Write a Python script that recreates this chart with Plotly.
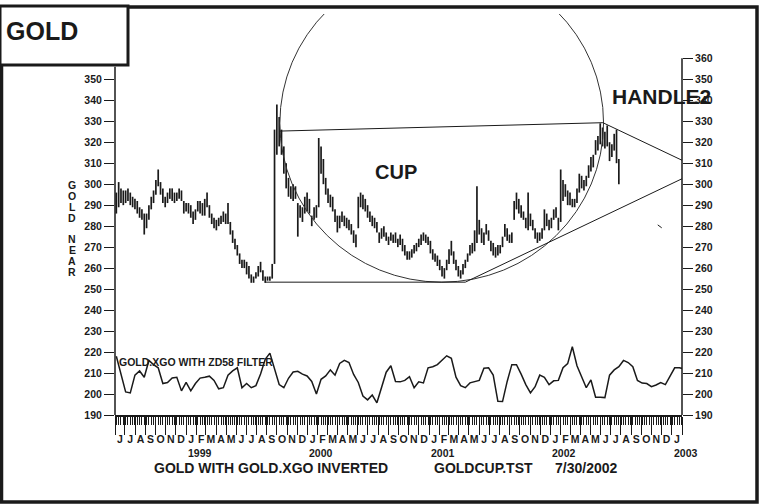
import plotly.graph_objects as go
import pandas as pd

# ---------------- data ----------------
# weekly high/low bars of GOLD NEAR (Fridays from 1998-06-05)
bar_start = "1998-06-05"
bar_low = [
    286, 289, 291, 290,            # 1998 Jun
    291, 292, 290, 289, 288,       # Jul
    286, 284, 283, 276,            # Aug
    279, 283, 288, 291,            # Sep
    295, 299, 295, 291, 289,       # Oct
    291, 293, 292, 291,            # Nov
    292, 293, 292, 286,            # Dec
    287, 286, 284, 281, 283,       # 1999 Jan
    287, 286, 285, 285,            # Feb
    289, 284, 281, 279,            # Mar
    278, 280, 281, 282, 281,       # Apr
    281, 276, 272, 269,            # May
    266, 262, 260, 260,            # Jun
    257, 255, 253, 253, 255,       # Jul
    256, 258, 254, 253,            # Aug
    254, 254, 255, 262,            # Sep
    314, 318, 314, 305, 298,       # Oct
    294, 293, 292, 293,            # Nov
    275, 284, 282, 286, 287,       # Dec
    286, 280, 283, 284,            # 2000 Jan
    289, 305, 300, 295,            # Feb
    291, 289, 287, 282, 277,       # Mar
    279, 282, 280, 279,            # Apr
    278, 276, 272, 270,            # May
    279, 289, 288, 287, 284,       # Jun
    282, 280, 279, 277,            # Jul
    272, 274, 275, 273,            # Aug
    271, 273, 272, 272, 270,       # Sep
    271, 268, 266, 264,            # Oct
    264, 265, 267, 268,            # Nov
    270, 271, 273, 272, 271,       # Dec
    267, 264, 263, 261,            # 2001 Jan
    259, 256, 255, 259,            # Feb
    262, 266, 262, 259, 256,       # Mar
    255, 257, 260, 263,            # Apr
    266, 267, 268, 272,            # May
    276, 272, 271, 276, 273,       # Jun
    268, 266, 265, 266,            # Jul
    267, 270, 275, 273, 272,       # Aug
    272, 283, 288, 286,            # Sep
    284, 283, 279, 278,            # Oct
    280, 278, 274, 272, 273,       # Nov
    274, 278, 280, 278,            # Dec
    279, 283, 284, 278,            # 2002 Jan
    282, 292, 294, 290,            # Feb
    290, 289, 289, 291, 296,       # Mar
    298, 297, 299, 303,            # Apr
    306, 308, 314, 316, 319,       # May
    318, 317, 318, 311,            # Jun
    313, 316, 310, 300,            # Jul
]
bar_high = [
    296, 301, 298, 297,
    297, 298, 296, 294, 293,
    292, 289, 288, 286,
    286, 290, 294, 297,
    302, 307, 301, 298, 294,
    296, 298, 298, 296,
    296, 298, 297, 292,
    291, 291, 290, 287, 288,
    292, 292, 291, 293,
    296, 290, 286, 284,
    283, 284, 285, 287, 286,
    291, 282, 278, 274,
    271, 267, 264, 264,
    263, 261, 257, 256, 258,
    261, 263, 259, 256,
    256, 256, 262, 326,
    338, 332, 326, 318, 310,
    303, 299, 300, 299,
    291, 290, 289, 294, 296,
    293, 285, 289, 290,
    322, 318, 312, 303,
    298, 295, 294, 288, 285,
    285, 287, 285, 284,
    283, 281, 278, 276,
    294, 296, 295, 293, 290,
    287, 285, 284, 282,
    277, 279, 280, 277,
    275, 277, 276, 277, 274,
    276, 274, 271, 268,
    268, 269, 271, 272,
    274, 276, 277, 276, 275,
    273, 269, 267, 266,
    264, 261, 260, 264,
    269, 273, 268, 264, 261,
    259, 262, 264, 267,
    271, 272, 278, 299,
    283, 279, 277, 281, 278,
    273, 272, 270, 271,
    271, 275, 281, 279, 276,
    277, 292, 296, 293,
    290, 287, 284, 296,
    286, 283, 279, 277, 277,
    279, 288, 286, 283,
    284, 288, 289, 284,
    307, 302, 300, 297,
    296, 293, 293, 298, 305,
    304, 302, 304, 309,
    313, 314, 321, 323, 329,
    327, 325, 328, 320,
    319, 324, 326, 312,
]

# GOLD.XGO oscillator, every two weeks from 1998-06-05
osc_start = "1998-06-05"
osc_values = [
    218, 210, 201, 200.5, 209, 211, 208, 216, 214, 212.5,
    205, 205.5, 207.6, 208, 201.5, 205.5, 201.5, 205, 207.6, 208,
    208.5, 206.5, 202.5, 203, 209, 211, 212.5, 203, 205, 203,
    204, 209.5, 216.5, 219.5, 212, 204.5, 203, 207.5, 210.5, 210.8,
    209.5, 208.6, 206, 200, 207, 208.6, 211.5, 209, 214.6, 216,
    215, 209.3, 205.5, 199, 197.2, 199.5, 195.8, 203.5, 210.4, 213.5,
    206, 205.8, 206.5, 208.3, 203, 205.8, 205.3, 212.5, 213, 214,
    216, 218.2, 217, 208, 204, 203, 205.3, 206, 206.5, 212.3,
    212.5, 209, 196.5, 196.4, 206, 214, 214, 209.5, 204.5, 200.5,
    203.5, 209, 208, 204.5, 206.3, 206.5, 212.5, 214.5, 222.5, 213.5,
    207.8, 203, 206.7, 198.5, 198.5, 198.3, 209, 211.5, 213, 216,
    215, 213, 206.5, 205.2, 205, 203.5, 204.3, 205.5, 204.5, 208.5,
    212.5, 212.5, 212,
]

# cup / handle construction points
cup_bottom_level = 253.3
cup_bottom_start = "1999-08-26"
cup_bottom_end = "2001-04-20"
rim_left = ("1999-10-09", 325.3)
rim_right = ("2002-06-08", 329.3)
handle_end = ("2003-02-01", 311.4)
rise_end = ("2003-02-25", 304.4)
circle_x = ("1999-10-10", "2002-06-10")
circle_y = (253.3, 404.9)
stray_mark = (("2002-11-20", 280.6), ("2002-12-02", 279.2))

left_ticks = list(range(190, 351, 10))
right_ticks = list(range(190, 361, 10))
month_alias = {"Jan": "J", "Feb": "F", "Mar": "M", "Apr": "A", "May": "M", "Jun": "J",
               "Jul": "J", "Aug": "A", "Sep": "S", "Oct": "O", "Nov": "N", "Dec": "D"}
year_labels = ["1999", "2000", "2001", "2002", "2003"]
x_range = ["1998-06-01", "2003-02-01"]
y_range = [190, 381.1]

# ---------------- figure ----------------
INK = "#1a1a1a"
FONT = "Liberation Sans"

bar_dates = pd.date_range(bar_start, periods=len(bar_low), freq="7D")
seg_x, seg_y = [], []
for d, lo, hi in zip(bar_dates, bar_low, bar_high):
    seg_x += [d, d, None]
    seg_y += [lo, hi, None]

osc_dates = pd.date_range(osc_start, periods=len(osc_values), freq="14D")

fig = go.Figure()
fig.add_trace(go.Scatter(x=seg_x, y=seg_y, mode="lines",
                         line=dict(color=INK, width=1.7), hoverinfo="skip"))
fig.add_trace(go.Scatter(x=osc_dates, y=osc_values, mode="lines", yaxis="y2",
                         line=dict(color=INK, width=1.5)))

W, H = 760, 504
ml, mr, mt, mb = 115, 78, 14, 89
pw, ph = W - ml - mr, H - mt - mb


def px(xp):
    return (xp - ml) / pw


def py(yp):
    return (H - mb - yp) / ph


tickfont = dict(family=FONT, size=10.5, color=INK, weight="bold")
xtickfont = dict(family=FONT, size=10.5, color=INK, weight="bold")

fig.update_layout(
    width=W, height=H,
    margin=dict(l=ml, r=mr, t=mt, b=mb),
    plot_bgcolor="white", paper_bgcolor="white",
    showlegend=False,
    xaxis=dict(type="date", range=x_range, tickmode="linear", tick0="1998-06-01",
               dtick="M1", ticks="outside", ticklen=18, tickwidth=1, tickcolor=INK,
               tickformat="%b", labelalias=month_alias, ticklabelmode="period",
               ticklabelstandoff=-4, tickangle=0,
               tickfont=xtickfont, showline=True, linecolor=INK, linewidth=1.5,
               showgrid=False, zeroline=False,
               minor=dict(ticks="outside", ticklen=8, tickwidth=1, tickcolor=INK,
                          tick0="1998-06-05", dtick=7 * 86400000, showgrid=False)),
    yaxis=dict(range=y_range, tickmode="array", tickvals=left_ticks, ticks="outside",
               ticklen=10, tickcolor=INK, tickwidth=1, tickfont=tickfont,
               showline=False, showgrid=False, zeroline=False),
    yaxis2=dict(range=y_range, overlaying="y", side="right", tickmode="array",
                tickvals=right_ticks, ticks="outside", ticklen=10, tickcolor=INK,
                tickwidth=1, tickfont=tickfont, showline=False, showgrid=False,
                zeroline=False),
)

thin = dict(color=INK, width=1)
shapes = [
    # axis lines
    dict(type="line", xref="paper", yref="y", x0=0, x1=0, y0=190, y1=356, line=dict(color=INK, width=1.5)),
    dict(type="line", xref="paper", yref="y", x0=1, x1=1, y0=190, y1=360, line=dict(color=INK, width=1.5)),
    # cup circle
    dict(type="circle", xref="x", yref="y", x0=circle_x[0], x1=circle_x[1],
         y0=circle_y[0], y1=circle_y[1], line=dict(color="#333", width=1)),
    # cup bottom
    dict(type="line", xref="x", yref="y", x0=cup_bottom_start, x1=cup_bottom_end,
         y0=cup_bottom_level, y1=cup_bottom_level, line=thin),
    # rim
    dict(type="line", xref="x", yref="y", x0=rim_left[0], y0=rim_left[1],
         x1=rim_right[0], y1=rim_right[1], line=thin),
    # handle upper
    dict(type="line", xref="x", yref="y", x0=rim_right[0], y0=rim_right[1],
         x1=handle_end[0], y1=handle_end[1], line=thin),
    # rising support
    dict(type="line", xref="x", yref="y", x0=cup_bottom_end, y0=cup_bottom_level,
         x1=rise_end[0], y1=rise_end[1], line=thin),
    dict(type="line", xref="x", yref="y", x0=stray_mark[0][0], y0=stray_mark[0][1],
         x1=stray_mark[1][0], y1=stray_mark[1][1], line=thin),
    # outer frame
    dict(type="rect", xref="paper", yref="paper", x0=px(1.5), x1=px(757), y0=py(502), y1=py(7),
         line=dict(color=INK, width=3.5)),
    # GOLD box
    dict(type="rect", xref="paper", yref="paper", x0=px(0), x1=px(128), y0=py(65), y1=py(6),
         line=dict(color=INK, width=3), fillcolor="white"),
]
fig.update_layout(shapes=shapes)

ann = []


def text(t, x, y, size, xanchor="left", xref="paper", yref="paper", yanchor="middle"):
    ann.append(dict(text=t, x=x, y=y, xref=xref, yref=yref, xanchor=xanchor,
                    yanchor=yanchor, showarrow=False,
                    font=dict(family=FONT, size=size, color=INK, weight="bold")))


text("GOLD", px(4), py(31), 25)
text("CUP", "2000-09-23", 305.8, 20, xanchor="center", xref="x", yref="y")
text("HANDLE2", "2002-12-02", 341.6, 21, xanchor="center", xref="x", yref="y")
text("GOLD.XGO WITH ZD58 FILTER", "1998-06-07", 215.3, 10.5, xref="x", yref="y")
for yl in year_labels:
    text(yl, f"{yl}-01-01", py(453), 10.5, xref="x")
text("GOLD WITH GOLD.XGO INVERTED", px(152), py(468), 14)
text("GOLDCUP.TST", px(432), py(468), 14)
text("7/30/2002", px(553), py(468), 14)
letter_y = [185, 196, 207, 218, None, 239, 250, 261, 272]
for ch, ly in zip("GOLD NEAR", letter_y):
    if ch != " ":
        text(ch, px(72), py(ly), 10.5, xanchor="center")
fig.update_layout(annotations=ann)

fig.write_html("out.html", post_script="document.body.style.margin='0px';",
               config={"displayModeBar": False})
